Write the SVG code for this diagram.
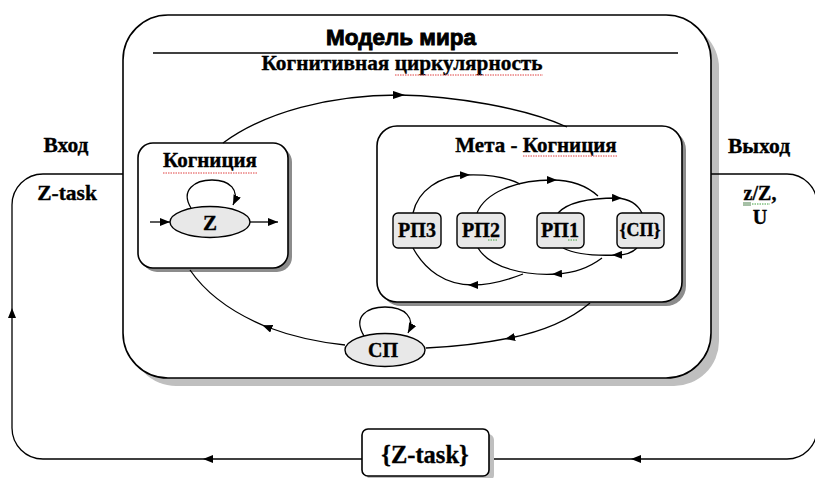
<svg xmlns="http://www.w3.org/2000/svg" width="815" height="478" viewBox="0 0 815 478">
<style>
.ln{fill:none;stroke:#000;stroke-width:1.3}
.bx{fill:#fff;stroke:#000;stroke-width:1.6}
.gr{fill:#e8e8e8;stroke:#000;stroke-width:1.4}
.t{font-family:"Liberation Serif","Times New Roman",serif;font-weight:bold;fill:#000;stroke:#000;stroke-width:0.35}
.s{font-family:"Liberation Sans",Arial,sans-serif;font-weight:bold;fill:#000;stroke:#000;stroke-width:0.9}
.red{fill:none;stroke:#e04040;stroke-width:1;stroke-dasharray:1.5,1}
.grn{fill:none;stroke:#40a040;stroke-width:1;stroke-dasharray:1.5,1}
</style>
<defs>
<marker id="am" viewBox="0 0 10 8" refX="5" refY="4" markerWidth="10" markerHeight="8" markerUnits="userSpaceOnUse" orient="auto"><path d="M0,0 L10,4 L0,8 z" fill="#000"/></marker>
<marker id="amb" viewBox="0 0 12 8" refX="6" refY="4" markerWidth="12" markerHeight="8" markerUnits="userSpaceOnUse" orient="auto"><path d="M0,0 L12,4 L0,8 z" fill="#000"/></marker>
<marker id="ae" viewBox="0 0 10 8" refX="10" refY="4" markerWidth="10" markerHeight="8" markerUnits="userSpaceOnUse" orient="auto"><path d="M0,0 L10,4 L0,8 z" fill="#000"/></marker>
</defs>

<g id="model">
<rect x="131" y="23" width="588" height="363" rx="45" fill="#bfbfbf"/>
<rect class="bx" x="123" y="15" width="588" height="363" rx="45"/>
<text class="s" x="401" y="45" font-size="22.5" text-anchor="middle">Модель мира</text>
<line x1="153" y1="53" x2="678" y2="53" stroke="#000" stroke-width="1.3"/>
<text class="t" x="402" y="70" font-size="21.3" text-anchor="middle">Когнитивная циркулярность</text>
<path class="red" d="M395,75 L543,75"/>
</g>

<g id="cognition">
<rect x="142" y="147" width="150" height="125" rx="15" fill="#8c8c8c"/>
<rect class="bx" x="138" y="143" width="150" height="125" rx="15"/>
<text class="t" x="210" y="167" font-size="21" text-anchor="middle">Когниция</text>
<path class="red" d="M163,173 L257,173"/>
</g>

<g id="meta">
<rect x="381" y="130" width="305" height="176" rx="20" fill="#8c8c8c"/>
<rect class="bx" x="377" y="126" width="305" height="176" rx="20"/>
<text class="t" x="536" y="152" font-size="21" text-anchor="middle">Мета - Когниция</text>
<path class="red" d="M523,156 L618,156"/>
</g>

<g id="connectors">
<path class="ln" marker-mid="url(#amb)" d="M223,143 C265,112 330,95 399,95 C455,96 525,108 567,127"/>
<path class="ln" marker-mid="url(#am)" d="M590,303 C570,320 540,332 510,338 C480,344 450,347 426,348"/>
<path class="ln" marker-mid="url(#am)" d="M345,345 A215,128 0 0 1 267,327 A215,128 0 0 1 190,270"/>
<path class="ln" marker-end="url(#ae)" d="M150,222 L170,222"/>
<path class="ln" marker-end="url(#ae)" d="M250,222 L278,222"/>
<path class="ln" marker-end="url(#ae)" d="M191,208 C180,190 195,180 212,180 C230,180 240,190 233,205"/>
<path class="ln" marker-end="url(#ae)" d="M364,336 C352,316 368,307 385,307 C405,307 416,318 408,333"/>
<path class="ln" marker-mid="url(#am)" d="M413,213 C418,190 440,176 465,175 C488,174 508,178 520,184"/>
<path class="ln" marker-mid="url(#am)" d="M477,213 C485,193 515,180 552,180 C572,180 588,187 598,196"/>
<path class="ln" marker-mid="url(#am)" d="M558,213 C568,202 590,198 617,198 C630,199 638,205 642,213"/>
<path class="ln" marker-mid="url(#am)" d="M637,248 C632,253 625,255 617,255 C595,256 575,254 563,248"/>
<path class="ln" marker-mid="url(#am)" d="M602,258 C590,267 575,273 557,274 C525,276 490,268 478,248"/>
<path class="ln" marker-mid="url(#am)" d="M523,274 C505,281 490,285 473,285 C445,285 425,270 413,248"/>
<path class="ln" marker-end="url(#ae)" d="M362,459 L203,459"/>
<path class="ln" marker-end="url(#ae)" d="M203,459 L43,459 A31,31 0 0 1 12,428 L12,308"/>
<path class="ln" d="M12,308 L12,205 A31,31 0 0 1 43,174 L123,174"/>
<path class="ln" marker-end="url(#ae)" d="M711,174 L787,174 A30,30 0 0 1 817,204 L817,429 A30,30 0 0 1 787,459 L631,459"/>
<path class="ln" d="M631,459 L488,459"/>
</g>

<g id="z">
<ellipse class="gr" cx="210" cy="222" rx="40" ry="15.5"/>
<text class="t" x="210" y="230" font-size="21" text-anchor="middle">Z</text>
</g>

<g id="sp">
<ellipse class="gr" cx="385" cy="350" rx="40" ry="16.5"/>
<text class="t" x="383" y="357" font-size="20" text-anchor="middle">СП</text>
</g>

<g id="rp3">
<rect class="gr" x="393" y="213" width="48" height="35" rx="5"/>
<text class="t" x="417" y="237" font-size="20" text-anchor="middle">РП3</text>
</g>
<g id="rp2">
<rect class="gr" x="457" y="213" width="48" height="35" rx="5"/>
<text class="t" x="481" y="237" font-size="20" text-anchor="middle">РП2</text>
<path class="grn" d="M488,240 L498,240"/>
</g>
<g id="rp1">
<rect class="gr" x="537" y="213" width="47" height="35" rx="5"/>
<text class="t" x="560" y="237" font-size="20" text-anchor="middle">РП1</text>
<path class="grn" d="M568,240 L578,240"/>
</g>
<g id="spset">
<rect class="gr" x="617" y="213" width="47" height="35" rx="5"/>
<text class="t" x="640" y="236" font-size="18" text-anchor="middle">{СП}</text>
</g>

<g id="ztask">
<rect x="367" y="434" width="127" height="47" rx="6" fill="#bfbfbf"/>
<rect class="bx" x="362" y="429" width="127" height="47" rx="6"/>
<text class="t" x="425" y="463" font-size="24.5" text-anchor="middle">{Z-task}</text>
</g>

<g id="input">
<text class="t" x="66" y="152" font-size="21.5" text-anchor="middle">Вход</text>
<text class="t" x="67" y="200" font-size="21.5" text-anchor="middle">Z-task</text>
</g>
<g id="output">
<text class="t" x="759" y="153" font-size="21.5" text-anchor="middle">Выход</text>
<text class="t" x="760" y="200" font-size="20" text-anchor="middle">z/Z,</text>
<text class="t" x="760" y="224" font-size="20" text-anchor="middle">U</text>
<path d="M743,203 L751,203 M743,205 L751,205" stroke="#206020" stroke-width="0.8"/>
<path class="grn" d="M752,204 L770,204"/>
</g>
</svg>
